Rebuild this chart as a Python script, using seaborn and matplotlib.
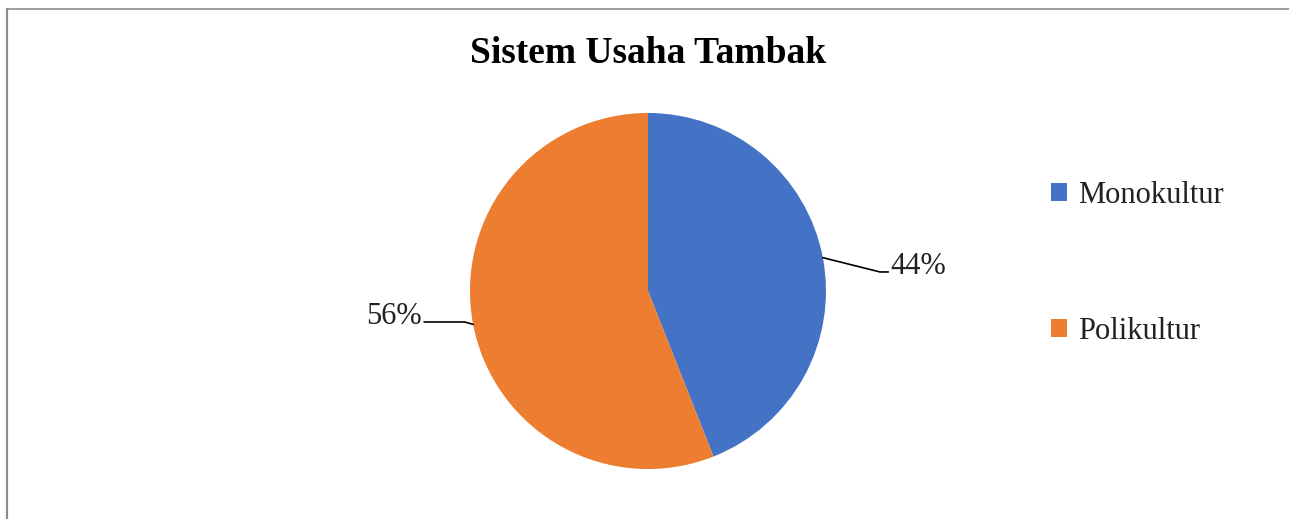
import numpy as np
import seaborn as sns
import matplotlib.pyplot as plt
from matplotlib.lines import Line2D
from matplotlib.patches import Patch

# data
categories = ["Monokultur", "Polikultur"]
shares = [44, 56]
pct_labels = ["44%", "56%"]
title = "Sistem Usaha Tambak"

sns.set_theme(style="white")
plt.rcParams["font.family"] = ["Liberation Serif", "DejaVu Serif"]
colors = ["#4472C4", "#ED7D31"]

fig = plt.figure(figsize=(12.89, 5.19), dpi=100)
ax = fig.add_axes([0.3646, 0.0963, 0.2762, 0.686])

wedges, _ = ax.pie(shares, colors=colors, startangle=90, counterclock=False,
                   radius=1.0, wedgeprops=dict(linewidth=0))
ax.set_xlim(-1, 1)
ax.set_ylim(-1, 1)
ax.set_aspect("equal")

# leader lines: (elbow x, line end x, line y) in pie-radius units
leaders = [(1.303, 1.35, 0.107), (-1.03, -1.258, -0.174)]
for w, lab, (ex, endx, ly) in zip(wedges, pct_labels, leaders):
    ang = np.deg2rad((w.theta1 + w.theta2) / 2)
    px, py = np.cos(ang), np.sin(ang)
    side = np.sign(px)
    ax.plot([px, ex, endx], [py, ly, ly], color="black", lw=1.2,
            clip_on=False)
    ax.text(endx + side * 0.012, ly + 0.03, lab, fontsize=22,
            ha="left" if side > 0 else "right", va="center", color="#222222")

fig.text(0.5027, 0.897, title, ha="center", va="center", fontsize=27,
         fontweight="bold", color="black")

handles = [Patch(facecolor=c, edgecolor="none") for c in colors]
fig.legend(handles, categories, loc="upper left", bbox_to_anchor=(0.8055, 0.675),
           frameon=False, fontsize=22, handlelength=0.55, handleheight=0.55,
           handletextpad=0.35, labelspacing=3.5, labelcolor="#222222",
           borderaxespad=0)

# outer chart border (cropped at right and bottom)
fig.add_artist(Line2D([6.5 / 1289, 1.0], [1 - 8.5 / 519, 1 - 8.5 / 519],
                      color="#8c8c8c", lw=1.2, transform=fig.transFigure))
fig.add_artist(Line2D([6.5 / 1289, 6.5 / 1289], [0, 1 - 8.5 / 519],
                      color="#8c8c8c", lw=1.6, transform=fig.transFigure))

fig.savefig("out.png", dpi=100, facecolor="white")
